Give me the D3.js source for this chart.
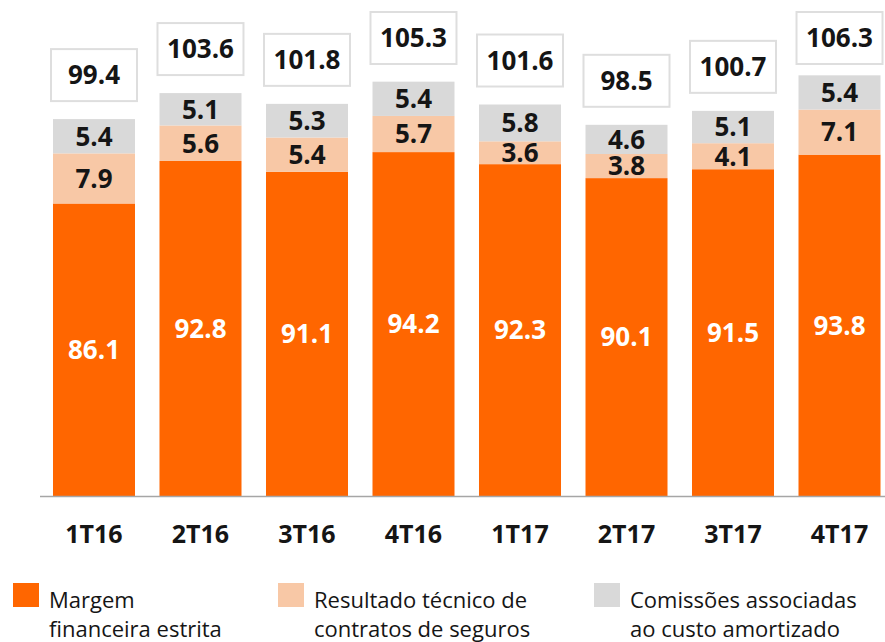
<!DOCTYPE html>
<html>
<head>
<meta charset="utf-8">
<script src="https://cdn.jsdelivr.net/npm/d3@7"></script>
<style>
  body { margin: 0; background: #fff; }
  svg { display: block; }
</style>
</head>
<body>
<script>
var categories = ["1T16", "2T16", "3T16", "4T16", "1T17", "2T17", "3T17", "4T17"];
var margem = [86.1, 92.8, 91.1, 94.2, 92.3, 90.1, 91.5, 93.8];
var resultado = [7.9, 5.6, 5.4, 5.7, 3.6, 3.8, 4.1, 7.1];
var comissoes = [5.4, 5.1, 5.3, 5.4, 5.8, 4.6, 5.1, 5.4];
var totals = [99.4, 103.6, 101.8, 105.3, 101.6, 98.5, 100.7, 106.3];

var seriesNames = ["Margem\nfinanceira estrita", "Resultado técnico de\ncontratos de seguros", "Comissões associadas\nao custo amortizado"];
var colors = ["#ff6600", "#f8c8a6", "#d9d9d9"];

var width = 885, height = 642;

var svg = d3.select("body")
  .append("svg")
  .attr("width", width)
  .attr("height", height);

var x = d3.scaleBand()
  .domain(categories)
  .range([40, 893.5])
  .paddingInner(0.23)
  .paddingOuter(0.122);

var y = d3.scaleLinear()
  .domain([40, 113.6])
  .range([496, 29]);

var rows = categories.map(function (c, i) {
  return { cat: c, margem: margem[i], resultado: resultado[i], comissoes: comissoes[i], total: totals[i] };
});

var stack = d3.stack().keys(["margem", "resultado", "comissoes"]);
var layers = stack(rows);

// bars
var layer = svg.selectAll(".layer")
  .data(layers)
  .enter()
  .append("g")
  .attr("class", "layer")
  .attr("fill", function (d, i) { return colors[i]; });

layer.selectAll("rect")
  .data(function (d) { return d; })
  .enter()
  .append("rect")
  .attr("x", function (d) { return x(d.data.cat); })
  .attr("width", x.bandwidth())
  .attr("y", function (d) { return y(d[1]); })
  .attr("height", function (d) { return y(Math.max(d[0], 40)) - y(d[1]); });

// segment labels
layer.selectAll("text")
  .data(function (d) { return d; })
  .enter()
  .append("text")
  .attr("x", function (d) { return x(d.data.cat) + x.bandwidth() / 2; })
  .attr("y", function (d) { return (y(Math.max(d[0], 40)) + y(d[1])) / 2; })
  .attr("dy", "0.36em")
  .attr("text-anchor", "middle")
  .attr("font-family", "Open Sans, sans-serif")
  .attr("font-weight", "bold")
  .attr("font-size", 26)
  .attr("fill", function () {
    return this.parentNode.__data__.key === "margem" ? "#ffffff" : "#151515";
  })
  .text(function (d) { return (d[1] - d[0]).toFixed(1); });

// axis line
svg.append("line")
  .attr("x1", 40)
  .attr("x2", width)
  .attr("y1", y(40) + 0.5)
  .attr("y2", y(40) + 0.5)
  .attr("stroke", "#a6a6a6")
  .attr("stroke-width", 1.5);

// category labels
svg.selectAll(".cat")
  .data(categories)
  .enter()
  .append("text")
  .attr("class", "cat")
  .attr("x", function (d) { return x(d) + x.bandwidth() / 2; })
  .attr("y", 543)
  .attr("text-anchor", "middle")
  .attr("font-family", "Open Sans, sans-serif")
  .attr("font-weight", "bold")
  .attr("font-size", 25)
  .attr("fill", "#151515")
  .text(function (d) { return d; });

// total boxes
var boxW = 86, boxH = 52, boxGap = 18;
var tot = svg.selectAll(".tot")
  .data(rows)
  .enter()
  .append("g")
  .attr("class", "tot")
  .attr("transform", function (d) {
    var cx = x(d.cat) + x.bandwidth() / 2;
    var top = Math.max(y(d.margem + d.resultado + d.comissoes) - boxGap - boxH, 12);
    return "translate(" + (cx - boxW / 2) + "," + top + ")";
  });

tot.append("rect")
  .attr("width", boxW)
  .attr("height", boxH)
  .attr("fill", "#fff")
  .attr("stroke", "#dedede")
  .attr("stroke-width", 2);

tot.append("text")
  .attr("x", boxW / 2)
  .attr("y", boxH / 2)
  .attr("dy", "0.36em")
  .attr("text-anchor", "middle")
  .attr("font-family", "Open Sans, sans-serif")
  .attr("font-weight", "bold")
  .attr("font-size", 26)
  .attr("fill", "#151515")
  .text(function (d) { return d.total.toFixed(1); });

// legend
var legendX = [13, 278, 594];
var legend = svg.selectAll(".legend")
  .data(seriesNames)
  .enter()
  .append("g")
  .attr("class", "legend")
  .attr("transform", function (d, i) { return "translate(" + legendX[i] + ",583)"; });

legend.append("rect")
  .attr("width", 26)
  .attr("height", 24)
  .attr("fill", function (d, i) { return colors[i]; });

legend.append("text")
  .attr("font-family", "Open Sans, sans-serif")
  .attr("font-size", 22)
  .attr("fill", "#151515")
  .selectAll("tspan")
  .data(function (d) { return d.split("\n"); })
  .enter()
  .append("tspan")
  .attr("x", 36)
  .attr("y", function (d, i) { return 25 + i * 29; })
  .text(function (d) { return d; });
</script>
</body>
</html>
